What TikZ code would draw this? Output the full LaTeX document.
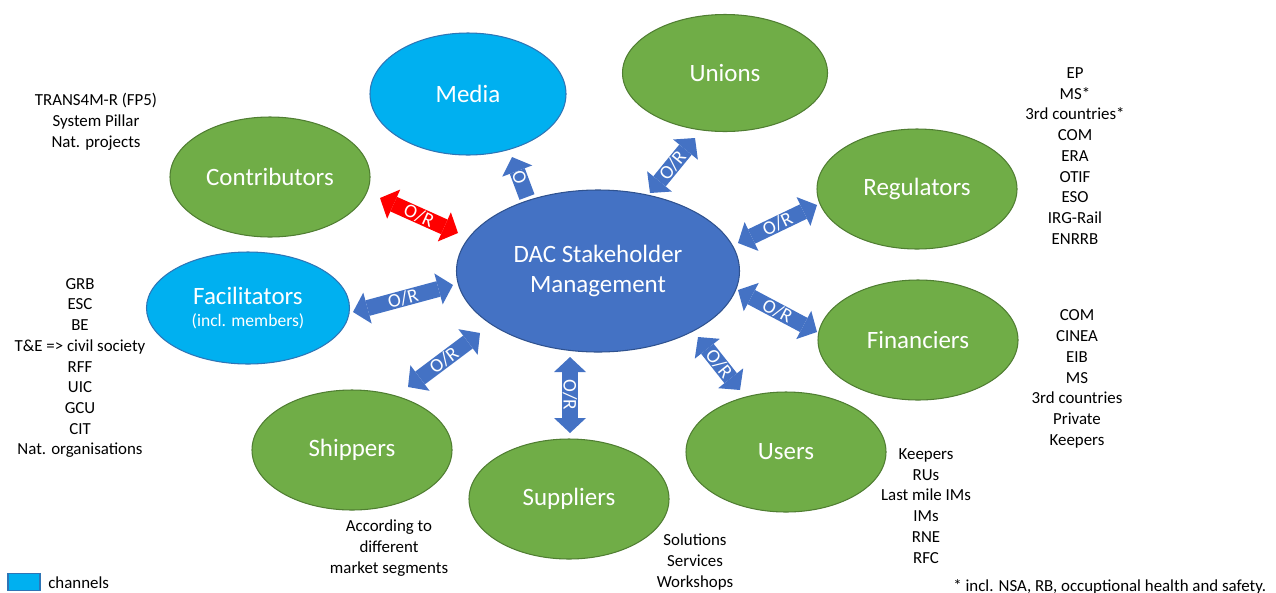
\documentclass[tikz,border=0pt]{standalone}
\usepackage{fontspec}
\setmainfont{Carlito}
\usetikzlibrary{shapes.geometric,arrows.meta}

\definecolor{grn}{HTML}{70AD47}
\definecolor{grnline}{HTML}{507E32}
\definecolor{chan}{HTML}{00B0F0}
\definecolor{chanline}{HTML}{2E75B6}
\definecolor{dacblue}{HTML}{4472C4}
\definecolor{dacline}{HTML}{2F528F}

\tikzset{
    tip/.tip={Triangle[width=6.4mm,length=3mm,line width=0pt]},
    stake/.style={ellipse,draw=grnline,fill=grn,line width=0.6pt,inner sep=0pt,
        minimum width=40mm,minimum height=24mm,text=white,
        font=\fontsize{14.2}{17}\selectfont},
    channel/.style={stake,draw=chanline,fill=chan},
    members/.style={align=center,inner sep=0pt,font=\fontsize{9.6}{11.8}\selectfont},
    link/.style={draw=dacblue,line width=3.2mm,tip-tip},
    oneway/.style={draw=dacblue,line width=3.2mm,-tip},
    lbl/.style={sloped,inner sep=0pt,text=white,font=\fontsize{11}{11}\selectfont}
}

\begin{document}
\begin{tikzpicture}[x=0.2mm,y=-0.2mm]

    \useasboundingbox (0,0) rectangle (1276,592);

    % stakeholder groups
    \node[stake,draw=dacline,fill=dacblue,minimum width=56.6mm,minimum height=32.4mm,align=center] (dac) at (598,271) {DAC Stakeholder\\Management};

    \node[channel,minimum width=39.2mm,minimum height=24.4mm] (media) at (468,94) {Media};
    \node[stake,minimum width=41mm,minimum height=23.4mm] (unions) at (725,73) {Unions};
    \node[stake] (contrib) at (270,177) {Contributors};
    \node[stake] (reg) at (917,189) {Regulators};
    \node[channel,minimum width=40.6mm,minimum height=22.4mm,align=center] (facil) at (248,308) {Facilitators\\[-4pt]{\fontsize{10}{12}\selectfont(incl. members)}};
    \node[stake] (fin) at (918,340) {Financiers};
    \node[stake] (ship) at (352,450) {Shippers};
    \node[stake] (users) at (786,452) {Users};
    \node[stake] (suppl) at (569,499) {Suppliers};

    % arrow ends
    \coordinate (mediaA) at (527,197);
    \coordinate (mediaB) at (512,157);
    \coordinate (unionsA) at (650,193);
    \coordinate (unionsB) at (695,138);
    \coordinate (contribA) at (380,198);
    \coordinate (contribB) at (458,233);
    \coordinate (regA) at (738,243);
    \coordinate (regB) at (817,205);
    \coordinate (facilA) at (353,312);
    \coordinate (facilB) at (453,285);
    \coordinate (finA) at (738,290);
    \coordinate (finB) at (817,332);
    \coordinate (shipA) at (408,387);
    \coordinate (shipB) at (480,333);
    \coordinate (supplA) at (570,357);
    \coordinate (supplB) at (570,433);
    \coordinate (usersA) at (698,337);
    \coordinate (usersB) at (740,390);

    \draw [oneway] (mediaA) -- node[lbl] {O} (mediaB);
    \draw [link] (unionsA) -- node[lbl] {O/R} (unionsB);
    \draw [link,draw=red] (contribA) -- node[lbl] {O/R} (contribB);
    \draw [link] (regA) -- node[lbl] {O/R} (regB);
    \draw [link] (facilA) -- node[lbl] {O/R} (facilB);
    \draw [link] (finA) -- node[lbl] {O/R} (finB);
    \draw [link] (shipA) -- node[lbl] {O/R} (shipB);
    \draw [link] (supplA) -- node[lbl,sloped=false,rotate=-90] {O/R} (supplB);
    \draw [link] (usersA) -- node[lbl] {O/R} (usersB);

    % member lists
    \node[members] (contribL) at (96,122) {TRANS4M-R (FP5)\\System Pillar\\Nat. projects};
    \node[members] (facilL) at (80,368) {GRB\\ESC\\BE\\T\&E => civil society\\RFF\\UIC\\GCU\\CIT\\Nat. organisations};
    \node[members] (regL) at (1075,156) {EP\\MS*\\3rd countries*\\COM\\ERA\\OTIF\\ESO\\IRG-Rail\\ENRRB};
    \node[members] (finL) at (1077,379) {COM\\CINEA\\EIB\\MS\\3rd countries\\Private\\Keepers};
    \node[members] (usersL) at (926,506) {Keepers\\RUs\\Last mile IMs\\IMs\\RNE\\RFC};
    \node[members] (supplL) at (695,562) {Solutions\\Services\\Workshops};
    \node[members] (shipL) at (389,548) {According to\\different\\market segments};

    % legend and footnote
    \node[draw=chanline,fill=chan,line width=0.6pt,minimum width=6.4mm,minimum height=3.4mm,inner sep=0pt] (legbox) at (24,582) {};
    \node[members,anchor=west] (legtxt) at (48,583) {channels};
    \node[members,anchor=base west] (foot) at (953,591) {* incl. NSA, RB, occuptional health and safety.};

\end{tikzpicture}
\end{document}
